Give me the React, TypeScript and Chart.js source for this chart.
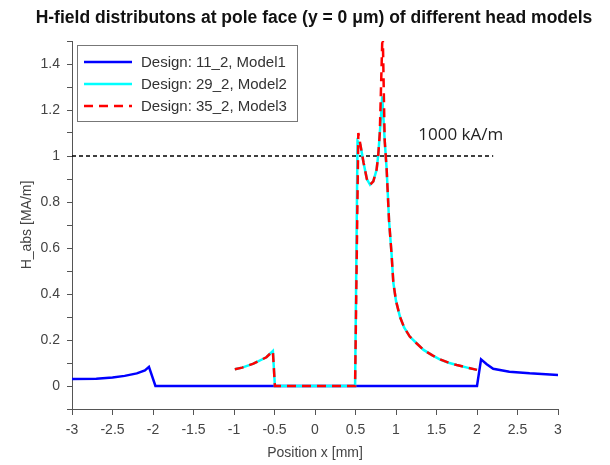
import React, { useEffect, useRef } from 'react';
import { Chart, registerables } from 'chart.js';

Chart.register(...registerables);

// ---- data ----
const titleText = 'H-field distributons at pole face (y = 0 \u03bcm) of different head models';
const xAxisTitle = 'Position x [mm]';
const yAxisTitle = 'H_abs [MA/m]';
const seriesLabels = ['Design: 11_2, Model1', 'Design: 29_2, Model2', 'Design: 35_2, Model3'];
const seriesColors = ['#0000ff', '#00ffff', '#ff0000'];

const model1X = [-3, -2.7, -2.5, -2.35, -2.2, -2.1, -2.05, -1.97, 2.0, 2.05, 2.12, 2.2, 2.4, 2.65, 2.9, 3.02];
const model1Y = [0.03, 0.032, 0.037, 0.044, 0.055, 0.068, 0.083, 0, 0, 0.116, 0.095, 0.075, 0.062, 0.055, 0.05, 0.047];

const model2X = [-0.99, -0.9, -0.76, -0.6, -0.52, -0.495, 0.495, 0.525, 0.56, 0.6, 0.64, 0.68, 0.72, 0.76, 0.78, 0.8, 0.815, 0.83, 0.86, 0.885, 0.914, 0.945, 0.967, 1.0, 1.05, 1.1, 1.17, 1.25, 1.34, 1.45, 1.54, 1.65, 1.75, 1.88, 2.0];
const model2Y = [0.073, 0.08, 0.097, 0.125, 0.152, 0, 0, 1.065, 1.05, 0.97, 0.9, 0.875, 0.89, 0.94, 1.0, 1.1, 1.17, 1.26, 1.07, 0.94, 0.72, 0.575, 0.45, 0.37, 0.3, 0.255, 0.215, 0.187, 0.157, 0.133, 0.116, 0.101, 0.091, 0.08, 0.07];

const model3X = [-0.99, -0.9, -0.76, -0.6, -0.52, -0.495, 0.495, 0.535, 0.56, 0.6, 0.64, 0.68, 0.72, 0.76, 0.78, 0.8, 0.835, 0.86, 0.885, 0.914, 0.945, 0.967, 1.0, 1.05, 1.1, 1.17, 1.25, 1.34, 1.45, 1.54, 1.65, 1.75, 1.88, 2.0];
const model3Y = [0.073, 0.08, 0.097, 0.125, 0.152, 0, 0, 1.1, 1.05, 0.97, 0.9, 0.875, 0.89, 0.94, 1.0, 1.1, 1.56, 1.07, 0.94, 0.72, 0.575, 0.45, 0.37, 0.3, 0.255, 0.215, 0.187, 0.157, 0.133, 0.116, 0.101, 0.091, 0.08, 0.07];

const refLineX = [-3, 2.2];
const refLineY = [1, 1];
const noteText = '1000 kA/m';
const noteX = 1.8;
const noteY = 1.07;

const xMin = -3, xMax = 3, xStep = 0.5;
const yMin = -0.1, yMax = 1.5, yStep = 0.1;
const yLabelValues = [0, 0.2, 0.4, 0.6, 0.8, 1, 1.2, 1.4];

const zip = (xs: number[], ys: number[]) => xs.map((x, i) => ({ x, y: ys[i] }));

const FONT = '"Liberation Sans", Arial, sans-serif';

const overlayPlugin = {
  id: 'overlay',
  afterDraw(chart: any) {
    const ctx = chart.ctx as CanvasRenderingContext2D;
    const xs = chart.scales.x;
    const ys = chart.scales.y;
    const area = chart.chartArea;
    ctx.save();
    // title
    ctx.font = `bold 17.5px ${FONT}`;
    ctx.fillStyle = '#111';
    ctx.textAlign = 'center';
    ctx.textBaseline = 'alphabetic';
    ctx.fillText(titleText, 314, 23);
    // annotation
    ctx.font = '17px "Open Sans", sans-serif';
    ctx.fillStyle = '#222';
    ctx.fillText(noteText, xs.getPixelForValue(noteX), ys.getPixelForValue(noteY));
    // legend box
    const lx = area.left + 5;
    const ly = area.top + 4;
    const lw = 220;
    const lh = 76;
    ctx.fillStyle = '#ffffff';
    ctx.fillRect(lx, ly, lw, lh);
    ctx.strokeStyle = '#777';
    ctx.lineWidth = 1;
    ctx.strokeRect(lx + 0.5, ly + 0.5, lw, lh);
    const rows = [17, 39, 61];
    ctx.font = `15px ${FONT}`;
    ctx.textAlign = 'left';
    chart.data.datasets.slice(0, 3).forEach((ds: any, i: number) => {
      const ry = ly + rows[i];
      ctx.beginPath();
      ctx.strokeStyle = ds.borderColor;
      ctx.lineWidth = ds.borderWidth;
      ctx.setLineDash(ds.borderDash || []);
      ctx.moveTo(lx + 7, ry);
      ctx.lineTo(lx + 55, ry);
      ctx.stroke();
      ctx.setLineDash([]);
      ctx.fillStyle = '#333';
      ctx.fillText(ds.label, lx + 64, ry + 5);
    });
    ctx.restore();
  },
};

export default function App() {
  const ref = useRef<HTMLCanvasElement | null>(null);
  useEffect(() => {
    document.body.style.margin = '0';
    if (!ref.current) return;
    const chart = new Chart(ref.current, {
      type: 'line',
      data: {
        datasets: [
          { label: seriesLabels[0], data: zip(model1X, model1Y), borderColor: seriesColors[0], borderWidth: 2.5, pointRadius: 0, order: 2, tension: 0 },
          { label: seriesLabels[1], data: zip(model2X, model2Y), borderColor: seriesColors[1], borderWidth: 2.5, pointRadius: 0, order: 1, tension: 0 },
          { label: seriesLabels[2], data: zip(model3X, model3Y), borderColor: seriesColors[2], borderWidth: 2.5, borderDash: [9, 6], pointRadius: 0, order: 0, tension: 0 },
          { label: 'ref', data: zip(refLineX, refLineY), borderColor: '#000000', borderWidth: 1.5, borderDash: [4, 3], pointRadius: 0, order: 3 },
        ],
      },
      options: {
        responsive: false,
        animation: false,
        devicePixelRatio: 1,
        layout: { padding: { top: 41, right: 52, left: 0, bottom: 0 } },
        plugins: { legend: { display: false }, title: { display: false }, tooltip: { enabled: false } },
        scales: {
          x: {
            type: 'linear',
            min: xMin,
            max: xMax,
            afterFit: (s: any) => { s.height = 56; },
            ticks: {
              stepSize: xStep,
              autoSkip: false,
              maxRotation: 0,
              color: '#444',
              font: { family: FONT, size: 14 },
              padding: 7,
              callback: (v: any) => String(Math.round(Number(v) * 10) / 10),
            },
            grid: { drawOnChartArea: false, drawTicks: true, tickLength: 6, color: '#555' },
            border: { display: true, color: '#555', width: 1 },
            title: { display: true, text: xAxisTitle, color: '#444', font: { family: FONT, size: 14 }, padding: { top: 0, bottom: 3 } },
          },
          y: {
            type: 'linear',
            min: yMin,
            max: yMax,
            afterFit: (s: any) => { s.width = 72; },
            ticks: {
              stepSize: yStep,
              autoSkip: false,
              color: '#444',
              font: { family: FONT, size: 14 },
              padding: 7,
              callback: (v: any) => {
                const r = Math.round(Number(v) * 10) / 10;
                return yLabelValues.some((t) => Math.abs(t - r) < 1e-6) ? String(r) : '';
              },
            },
            grid: { drawOnChartArea: false, drawTicks: true, tickLength: 5, color: '#555' },
            border: { display: true, color: '#555', width: 1 },
            title: { display: true, text: yAxisTitle, color: '#444', font: { family: FONT, size: 14 }, padding: { top: 19, bottom: 0 } },
          },
        },
      },
      plugins: [overlayPlugin],
    } as any);
    return () => chart.destroy();
  }, []);
  return (
    <div style={{ position: 'absolute', left: 0, top: 0, width: 610, height: 465 }}>
      <canvas ref={ref} width={610} height={465} />
    </div>
  );
}
